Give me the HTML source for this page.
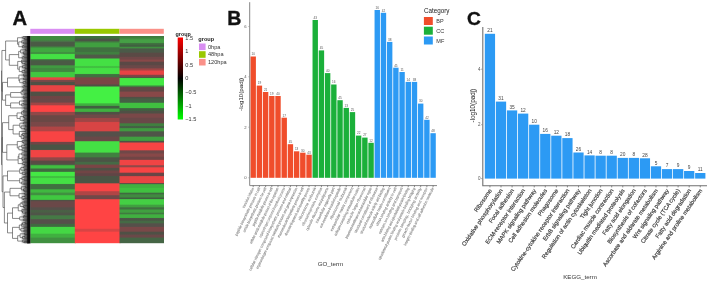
<!DOCTYPE html>
<html><head><meta charset="utf-8"><style>
html,body{margin:0;padding:0;background:#fff;width:709px;height:281px;overflow:hidden}
svg{display:block;will-change:transform;font-family:"Liberation Sans", sans-serif}

</style></head><body><div id="w">
<svg width="709" height="281" viewBox="0 0 709 281">
<rect width="709" height="281" fill="#fff"/>
<text x="12.6" y="25.3" font-size="20.2" font-weight="bold" fill="#111" stroke="#111" stroke-width="0.35">A</text>
<rect x="30.3" y="28.8" width="44.50" height="4.9999999999999964" fill="#D98EF2"/>
<rect x="74.8" y="28.8" width="44.70" height="4.9999999999999964" fill="#99C800"/>
<rect x="119.5" y="28.8" width="44.30" height="4.9999999999999964" fill="#FA9189"/>
<defs><linearGradient id="hm0" gradientUnits="userSpaceOnUse" x1="0" y1="36.0" x2="0" y2="243.2"><stop offset="0.0000" stop-color="#3f8a3f"/><stop offset="0.0195" stop-color="#3f8a3f"/><stop offset="0.0249" stop-color="#4a7048"/><stop offset="0.0263" stop-color="#4a7048"/><stop offset="0.0316" stop-color="#4a5a45"/><stop offset="0.0485" stop-color="#4a5a45"/><stop offset="0.0538" stop-color="#409040"/><stop offset="0.0553" stop-color="#409040"/><stop offset="0.0606" stop-color="#40a840"/><stop offset="0.0746" stop-color="#40a840"/><stop offset="0.0799" stop-color="#409040"/><stop offset="0.0842" stop-color="#409040"/><stop offset="0.0895" stop-color="#44e044"/><stop offset="0.1093" stop-color="#44e044"/><stop offset="0.1146" stop-color="#406a40"/><stop offset="0.1156" stop-color="#406a40"/><stop offset="0.1209" stop-color="#4a5a45"/><stop offset="0.1388" stop-color="#4a5a45"/><stop offset="0.1441" stop-color="#409a40"/><stop offset="0.1518" stop-color="#409a40"/><stop offset="0.1571" stop-color="#408840"/><stop offset="0.1711" stop-color="#408840"/><stop offset="0.1764" stop-color="#40c840"/><stop offset="0.1967" stop-color="#40c840"/><stop offset="0.2020" stop-color="#e84444"/><stop offset="0.2092" stop-color="#e84444"/><stop offset="0.2145" stop-color="#7a4848"/><stop offset="0.2189" stop-color="#7a4848"/><stop offset="0.2242" stop-color="#4f5045"/><stop offset="0.2348" stop-color="#4f5045"/><stop offset="0.2401" stop-color="#e84444"/><stop offset="0.2657" stop-color="#e84444"/><stop offset="0.2710" stop-color="#4f5045"/><stop offset="0.2869" stop-color="#4f5045"/><stop offset="0.2922" stop-color="#704545"/><stop offset="0.2995" stop-color="#704545"/><stop offset="0.3048" stop-color="#6a4848"/><stop offset="0.3188" stop-color="#6a4848"/><stop offset="0.3241" stop-color="#a04545"/><stop offset="0.3318" stop-color="#a04545"/><stop offset="0.3371" stop-color="#ff4444"/><stop offset="0.3637" stop-color="#ff4444"/><stop offset="0.3690" stop-color="#904848"/><stop offset="0.3796" stop-color="#904848"/><stop offset="0.3849" stop-color="#6a4845"/><stop offset="0.4124" stop-color="#6a4845"/><stop offset="0.4177" stop-color="#7a4848"/><stop offset="0.4346" stop-color="#7a4848"/><stop offset="0.4399" stop-color="#b04545"/><stop offset="0.4573" stop-color="#b04545"/><stop offset="0.4626" stop-color="#f84444"/><stop offset="0.5084" stop-color="#f84444"/><stop offset="0.5138" stop-color="#704545"/><stop offset="0.5210" stop-color="#704545"/><stop offset="0.5263" stop-color="#4a5545"/><stop offset="0.5475" stop-color="#4a5545"/><stop offset="0.5528" stop-color="#f04444"/><stop offset="0.5828" stop-color="#f04444"/><stop offset="0.5881" stop-color="#904848"/><stop offset="0.5987" stop-color="#904848"/><stop offset="0.6040" stop-color="#5a4a45"/><stop offset="0.6146" stop-color="#5a4a45"/><stop offset="0.6199" stop-color="#4a6045"/><stop offset="0.6209" stop-color="#4a6045"/><stop offset="0.6262" stop-color="#40c040"/><stop offset="0.6368" stop-color="#40c040"/><stop offset="0.6421" stop-color="#406a40"/><stop offset="0.6532" stop-color="#406a40"/><stop offset="0.6585" stop-color="#44e844"/><stop offset="0.6730" stop-color="#44e844"/><stop offset="0.6783" stop-color="#40c040"/><stop offset="0.6827" stop-color="#40c040"/><stop offset="0.6880" stop-color="#44e044"/><stop offset="0.7116" stop-color="#44e044"/><stop offset="0.7169" stop-color="#407040"/><stop offset="0.7372" stop-color="#407040"/><stop offset="0.7425" stop-color="#40b840"/><stop offset="0.7531" stop-color="#40b840"/><stop offset="0.7584" stop-color="#409040"/><stop offset="0.7657" stop-color="#409040"/><stop offset="0.7710" stop-color="#40c840"/><stop offset="0.7884" stop-color="#40c840"/><stop offset="0.7937" stop-color="#505045"/><stop offset="0.7946" stop-color="#505045"/><stop offset="0.8000" stop-color="#6a4848"/><stop offset="0.8241" stop-color="#6a4848"/><stop offset="0.8294" stop-color="#55504a"/><stop offset="0.8371" stop-color="#55504a"/><stop offset="0.8424" stop-color="#4a6045"/><stop offset="0.8497" stop-color="#4a6045"/><stop offset="0.8550" stop-color="#4f5548"/><stop offset="0.8627" stop-color="#4f5548"/><stop offset="0.8680" stop-color="#457a45"/><stop offset="0.8815" stop-color="#457a45"/><stop offset="0.8868" stop-color="#55504a"/><stop offset="0.9042" stop-color="#55504a"/><stop offset="0.9095" stop-color="#406a40"/><stop offset="0.9187" stop-color="#406a40"/><stop offset="0.9240" stop-color="#44d844"/><stop offset="0.9515" stop-color="#44d844"/><stop offset="0.9568" stop-color="#40b040"/><stop offset="0.9703" stop-color="#40b040"/><stop offset="0.9756" stop-color="#409040"/><stop offset="1.0000" stop-color="#409040"/></linearGradient></defs>
<rect x="30.3" y="36.0" width="45.50" height="207.20" fill="url(#hm0)"/>
<defs><linearGradient id="hm1" gradientUnits="userSpaceOnUse" x1="0" y1="36.0" x2="0" y2="243.2"><stop offset="0.0000" stop-color="#3d703d"/><stop offset="0.0099" stop-color="#3d703d"/><stop offset="0.0152" stop-color="#4a5545"/><stop offset="0.0229" stop-color="#4a5545"/><stop offset="0.0282" stop-color="#408040"/><stop offset="0.0292" stop-color="#408040"/><stop offset="0.0345" stop-color="#40a040"/><stop offset="0.0519" stop-color="#40a040"/><stop offset="0.0572" stop-color="#407040"/><stop offset="0.0746" stop-color="#407040"/><stop offset="0.0799" stop-color="#408040"/><stop offset="0.0871" stop-color="#408040"/><stop offset="0.0924" stop-color="#505a48"/><stop offset="0.1059" stop-color="#505a48"/><stop offset="0.1112" stop-color="#44e044"/><stop offset="0.1421" stop-color="#44e044"/><stop offset="0.1474" stop-color="#40c040"/><stop offset="0.1518" stop-color="#40c040"/><stop offset="0.1571" stop-color="#44e044"/><stop offset="0.1807" stop-color="#44e044"/><stop offset="0.1861" stop-color="#407040"/><stop offset="0.1967" stop-color="#407040"/><stop offset="0.2020" stop-color="#7a4545"/><stop offset="0.2314" stop-color="#7a4545"/><stop offset="0.2367" stop-color="#505045"/><stop offset="0.2411" stop-color="#505045"/><stop offset="0.2464" stop-color="#44f044"/><stop offset="0.3222" stop-color="#44f044"/><stop offset="0.3275" stop-color="#40b040"/><stop offset="0.3347" stop-color="#40b040"/><stop offset="0.3400" stop-color="#406040"/><stop offset="0.3477" stop-color="#406040"/><stop offset="0.3530" stop-color="#40b040"/><stop offset="0.3637" stop-color="#40b040"/><stop offset="0.3690" stop-color="#505045"/><stop offset="0.3762" stop-color="#505045"/><stop offset="0.3815" stop-color="#704848"/><stop offset="0.3931" stop-color="#704848"/><stop offset="0.3984" stop-color="#a04545"/><stop offset="0.4124" stop-color="#a04545"/><stop offset="0.4177" stop-color="#d84444"/><stop offset="0.4573" stop-color="#d84444"/><stop offset="0.4626" stop-color="#55504a"/><stop offset="0.4829" stop-color="#55504a"/><stop offset="0.4882" stop-color="#6a4848"/><stop offset="0.5051" stop-color="#6a4848"/><stop offset="0.5104" stop-color="#44e044"/><stop offset="0.5601" stop-color="#44e044"/><stop offset="0.5654" stop-color="#408040"/><stop offset="0.5828" stop-color="#408040"/><stop offset="0.5881" stop-color="#4a5545"/><stop offset="0.6050" stop-color="#4a5545"/><stop offset="0.6103" stop-color="#456a45"/><stop offset="0.6180" stop-color="#456a45"/><stop offset="0.6233" stop-color="#7a4545"/><stop offset="0.6339" stop-color="#7a4545"/><stop offset="0.6392" stop-color="#505045"/><stop offset="0.6465" stop-color="#505045"/><stop offset="0.6518" stop-color="#704545"/><stop offset="0.6595" stop-color="#704545"/><stop offset="0.6648" stop-color="#604545"/><stop offset="0.6730" stop-color="#604545"/><stop offset="0.6783" stop-color="#4a5545"/><stop offset="0.7083" stop-color="#4a5545"/><stop offset="0.7136" stop-color="#f84444"/><stop offset="0.7464" stop-color="#f84444"/><stop offset="0.7517" stop-color="#b04545"/><stop offset="0.7657" stop-color="#b04545"/><stop offset="0.7710" stop-color="#704848"/><stop offset="0.7850" stop-color="#704848"/><stop offset="0.7903" stop-color="#ff4444"/><stop offset="0.9278" stop-color="#ff4444"/><stop offset="0.9332" stop-color="#d84444"/><stop offset="0.9418" stop-color="#d84444"/><stop offset="0.9472" stop-color="#ff4444"/><stop offset="1.0000" stop-color="#ff4444"/></linearGradient></defs>
<rect x="74.8" y="36.0" width="45.70" height="207.20" fill="url(#hm1)"/>
<defs><linearGradient id="hm2" gradientUnits="userSpaceOnUse" x1="0" y1="36.0" x2="0" y2="243.2"><stop offset="0.0000" stop-color="#3d7a3d"/><stop offset="0.0056" stop-color="#3d7a3d"/><stop offset="0.0109" stop-color="#408a40"/><stop offset="0.0133" stop-color="#408a40"/><stop offset="0.0186" stop-color="#45a045"/><stop offset="0.0311" stop-color="#45a045"/><stop offset="0.0364" stop-color="#407040"/><stop offset="0.0393" stop-color="#407040"/><stop offset="0.0446" stop-color="#406040"/><stop offset="0.0495" stop-color="#406040"/><stop offset="0.0548" stop-color="#409040"/><stop offset="0.0572" stop-color="#409040"/><stop offset="0.0625" stop-color="#4a5a48"/><stop offset="0.0779" stop-color="#4a5a48"/><stop offset="0.0833" stop-color="#5a4a45"/><stop offset="0.0982" stop-color="#5a4a45"/><stop offset="0.1035" stop-color="#704848"/><stop offset="0.1112" stop-color="#704848"/><stop offset="0.1166" stop-color="#884848"/><stop offset="0.1214" stop-color="#884848"/><stop offset="0.1267" stop-color="#5a4845"/><stop offset="0.1383" stop-color="#5a4845"/><stop offset="0.1436" stop-color="#6a4848"/><stop offset="0.1537" stop-color="#6a4848"/><stop offset="0.1590" stop-color="#a04545"/><stop offset="0.1639" stop-color="#a04545"/><stop offset="0.1692" stop-color="#e84444"/><stop offset="0.1846" stop-color="#e84444"/><stop offset="0.1899" stop-color="#804545"/><stop offset="0.1947" stop-color="#804545"/><stop offset="0.2000" stop-color="#505045"/><stop offset="0.2000" stop-color="#505045"/><stop offset="0.2054" stop-color="#44e844"/><stop offset="0.2362" stop-color="#44e844"/><stop offset="0.2416" stop-color="#408040"/><stop offset="0.2435" stop-color="#408040"/><stop offset="0.2488" stop-color="#604845"/><stop offset="0.2657" stop-color="#604845"/><stop offset="0.2710" stop-color="#884848"/><stop offset="0.2913" stop-color="#884848"/><stop offset="0.2966" stop-color="#505045"/><stop offset="0.2990" stop-color="#505045"/><stop offset="0.3043" stop-color="#456045"/><stop offset="0.3197" stop-color="#456045"/><stop offset="0.3250" stop-color="#40c040"/><stop offset="0.3453" stop-color="#40c040"/><stop offset="0.3506" stop-color="#406040"/><stop offset="0.3583" stop-color="#406040"/><stop offset="0.3637" stop-color="#4f5045"/><stop offset="0.3714" stop-color="#4f5045"/><stop offset="0.3767" stop-color="#7a4848"/><stop offset="0.3917" stop-color="#7a4848"/><stop offset="0.3970" stop-color="#6a4848"/><stop offset="0.4187" stop-color="#6a4848"/><stop offset="0.4240" stop-color="#40803f"/><stop offset="0.4317" stop-color="#40803f"/><stop offset="0.4370" stop-color="#456045"/><stop offset="0.4418" stop-color="#456045"/><stop offset="0.4472" stop-color="#409a40"/><stop offset="0.4573" stop-color="#409a40"/><stop offset="0.4626" stop-color="#4f5548"/><stop offset="0.4833" stop-color="#4f5548"/><stop offset="0.4887" stop-color="#40a040"/><stop offset="0.5036" stop-color="#40a040"/><stop offset="0.5089" stop-color="#505045"/><stop offset="0.5113" stop-color="#505045"/><stop offset="0.5167" stop-color="#f84444"/><stop offset="0.5490" stop-color="#f84444"/><stop offset="0.5543" stop-color="#704848"/><stop offset="0.5644" stop-color="#704848"/><stop offset="0.5697" stop-color="#884848"/><stop offset="0.5799" stop-color="#884848"/><stop offset="0.5852" stop-color="#704545"/><stop offset="0.5953" stop-color="#704545"/><stop offset="0.6006" stop-color="#f04444"/><stop offset="0.6209" stop-color="#f04444"/><stop offset="0.6262" stop-color="#904848"/><stop offset="0.6310" stop-color="#904848"/><stop offset="0.6363" stop-color="#f84444"/><stop offset="0.6571" stop-color="#f84444"/><stop offset="0.6624" stop-color="#6a4545"/><stop offset="0.6735" stop-color="#6a4545"/><stop offset="0.6788" stop-color="#e84444"/><stop offset="0.7073" stop-color="#e84444"/><stop offset="0.7124" stop-color="#505045"/><stop offset="0.7124" stop-color="#505045"/><stop offset="0.7174" stop-color="#40b040"/><stop offset="0.7305" stop-color="#40b040"/><stop offset="0.7358" stop-color="#40c040"/><stop offset="0.7536" stop-color="#40c040"/><stop offset="0.7589" stop-color="#406a40"/><stop offset="0.7613" stop-color="#406a40"/><stop offset="0.7667" stop-color="#408a40"/><stop offset="0.7768" stop-color="#408a40"/><stop offset="0.7821" stop-color="#406040"/><stop offset="0.7845" stop-color="#406040"/><stop offset="0.7898" stop-color="#44d044"/><stop offset="0.8115" stop-color="#44d044"/><stop offset="0.8168" stop-color="#40a040"/><stop offset="0.8241" stop-color="#40a040"/><stop offset="0.8294" stop-color="#407040"/><stop offset="0.8347" stop-color="#407040"/><stop offset="0.8400" stop-color="#40a040"/><stop offset="0.8501" stop-color="#40a040"/><stop offset="0.8555" stop-color="#407a40"/><stop offset="0.8579" stop-color="#407a40"/><stop offset="0.8632" stop-color="#40b040"/><stop offset="0.8757" stop-color="#40b040"/><stop offset="0.8810" stop-color="#4a5545"/><stop offset="0.8888" stop-color="#4a5545"/><stop offset="0.8941" stop-color="#456a45"/><stop offset="0.9013" stop-color="#456a45"/><stop offset="0.9066" stop-color="#55504a"/><stop offset="0.9187" stop-color="#55504a"/><stop offset="0.9240" stop-color="#7a4848"/><stop offset="0.9418" stop-color="#7a4848"/><stop offset="0.9472" stop-color="#4f5045"/><stop offset="0.9558" stop-color="#4f5045"/><stop offset="0.9611" stop-color="#6a4848"/><stop offset="0.9703" stop-color="#6a4848"/><stop offset="0.9756" stop-color="#456545"/><stop offset="1.0000" stop-color="#456545"/></linearGradient></defs>
<rect x="119.5" y="36.0" width="44.50" height="207.20" fill="url(#hm2)"/>
<path d="M24.47 38.08L24.47 39.46M24.47 38.08L29.00 38.08M24.47 39.46L29.00 39.46M22.95 36.69L22.95 38.77M22.95 36.69L29.00 36.69M22.95 38.77L24.47 38.77M23.54 42.23L23.54 43.61M23.54 42.23L29.00 42.23M23.54 43.61L29.00 43.61M21.72 40.84L21.72 42.92M21.72 40.84L29.00 40.84M21.72 42.92L23.54 42.92M23.65 44.99L23.65 46.38M23.65 44.99L29.00 44.99M23.65 46.38L29.00 46.38M22.49 45.68L22.49 47.76M22.49 45.68L23.65 45.68M22.49 47.76L29.00 47.76M18.76 41.88L18.76 46.72M18.76 41.88L21.72 41.88M18.76 46.72L22.49 46.72M17.54 37.73L17.54 44.30M17.54 37.73L22.95 37.73M17.54 44.30L18.76 44.30M25.35 49.14L25.35 50.52M25.35 49.14L29.00 49.14M25.35 50.52L29.00 50.52M24.06 53.29L24.06 54.67M24.06 53.29L29.00 53.29M24.06 54.67L29.00 54.67M23.36 51.91L23.36 53.98M23.36 51.91L29.00 51.91M23.36 53.98L24.06 53.98M20.59 49.83L20.59 52.95M20.59 49.83L25.35 49.83M20.59 52.95L23.36 52.95M23.76 56.06L23.76 57.44M23.76 56.06L29.00 56.06M23.76 57.44L29.00 57.44M22.26 56.75L22.26 58.83M22.26 56.75L23.76 56.75M22.26 58.83L29.00 58.83M18.65 51.39L18.65 57.79M18.65 51.39L20.59 51.39M18.65 57.79L22.26 57.79M24.76 62.97L24.76 64.36M24.76 62.97L29.00 62.97M24.76 64.36L29.00 64.36M22.20 61.59L22.20 63.67M22.20 61.59L29.00 61.59M22.20 63.67L24.76 63.67M21.50 60.21L21.50 62.63M21.50 60.21L29.00 60.21M21.50 62.63L22.20 62.63M24.99 67.12L24.99 68.51M24.99 67.12L29.00 67.12M24.99 68.51L29.00 68.51M22.55 65.74L22.55 67.82M22.55 65.74L29.00 65.74M22.55 67.82L24.99 67.82M24.45 69.89L24.45 71.28M24.45 69.89L29.00 69.89M24.45 71.28L29.00 71.28M22.13 70.58L22.13 72.66M22.13 70.58L24.45 70.58M22.13 72.66L29.00 72.66M19.27 66.78L19.27 71.62M19.27 66.78L22.55 66.78M19.27 71.62L22.13 71.62M17.71 61.42L17.71 69.20M17.71 61.42L21.50 61.42M17.71 69.20L19.27 69.20M9.30 54.59L9.30 65.31M9.30 54.59L18.65 54.59M9.30 65.31L17.71 65.31M5.60 41.01L5.60 59.95M5.60 41.01L17.54 41.01M5.60 59.95L9.30 59.95M24.31 75.42L24.31 76.81M24.31 75.42L29.00 75.42M24.31 76.81L29.00 76.81M23.61 74.04L23.61 76.12M23.61 74.04L29.00 74.04M23.61 76.12L24.31 76.12M23.48 78.19L23.48 79.57M23.48 78.19L29.00 78.19M23.48 79.57L29.00 79.57M25.15 80.96L25.15 82.34M25.15 80.96L29.00 80.96M25.15 82.34L29.00 82.34M23.17 81.65L23.17 83.72M23.17 81.65L25.15 81.65M23.17 83.72L29.00 83.72M19.74 78.88L19.74 82.69M19.74 78.88L23.48 78.88M19.74 82.69L23.17 82.69M18.86 75.08L18.86 80.79M18.86 75.08L23.61 75.08M18.86 80.79L19.74 80.79M24.56 85.11L24.56 86.49M24.56 85.11L29.00 85.11M24.56 86.49L29.00 86.49M23.04 85.80L23.04 87.88M23.04 85.80L24.56 85.80M23.04 87.88L29.00 87.88M7.50 77.93L7.50 86.84M7.50 77.93L18.86 77.93M7.50 86.84L23.04 86.84M23.52 89.26L23.52 90.64M23.52 89.26L29.00 89.26M23.52 90.64L29.00 90.64M22.59 89.95L22.59 92.03M22.59 89.95L23.52 89.95M22.59 92.03L29.00 92.03M24.69 93.41L24.69 94.79M24.69 93.41L29.00 93.41M24.69 94.79L29.00 94.79M21.11 90.99L21.11 94.10M21.11 90.99L22.59 90.99M21.11 94.10L24.69 94.10M24.17 97.56L24.17 98.94M24.17 97.56L29.00 97.56M24.17 98.94L29.00 98.94M23.29 96.17L23.29 98.25M23.29 96.17L29.00 96.17M23.29 98.25L24.17 98.25M10.60 92.54L10.60 97.21M10.60 92.54L21.11 92.54M10.60 97.21L23.29 97.21M23.74 100.33L23.74 101.71M23.74 100.33L29.00 100.33M23.74 101.71L29.00 101.71M23.66 103.09L23.66 104.47M23.66 103.09L29.00 103.09M23.66 104.47L29.00 104.47M21.76 103.78L21.76 105.86M21.76 103.78L23.66 103.78M21.76 105.86L29.00 105.86M19.48 101.02L19.48 104.82M19.48 101.02L23.74 101.02M19.48 104.82L21.76 104.82M24.18 107.24L24.18 108.62M24.18 107.24L29.00 107.24M24.18 108.62L29.00 108.62M10.60 102.92L10.60 107.93M10.60 102.92L19.48 102.92M10.60 107.93L24.18 107.93M5.60 94.88L5.60 105.43M5.60 94.88L10.60 94.88M5.60 105.43L10.60 105.43M2.50 82.38L2.50 100.15M2.50 82.38L7.50 82.38M2.50 100.15L5.60 100.15M1.90 50.48L1.90 91.27M1.90 50.48L5.60 50.48M1.90 91.27L2.50 91.27M23.98 110.01L23.98 111.39M23.98 110.01L29.00 110.01M23.98 111.39L29.00 111.39M23.28 110.70L23.28 112.77M23.28 110.70L23.98 110.70M23.28 112.77L29.00 112.77M21.50 111.74L21.50 114.16M21.50 111.74L23.28 111.74M21.50 114.16L29.00 114.16M24.26 116.92L24.26 118.31M24.26 116.92L29.00 116.92M24.26 118.31L29.00 118.31M23.56 115.54L23.56 117.62M23.56 115.54L29.00 115.54M23.56 117.62L24.26 117.62M23.87 119.69L23.87 121.08M23.87 119.69L29.00 119.69M23.87 121.08L29.00 121.08M20.15 116.58L20.15 120.38M20.15 116.58L23.56 116.58M20.15 120.38L23.87 120.38M17.05 112.95L17.05 118.48M17.05 112.95L21.50 112.95M17.05 118.48L20.15 118.48M23.41 122.46L23.41 123.84M23.41 122.46L29.00 122.46M23.41 123.84L29.00 123.84M25.31 125.22L25.31 126.61M25.31 125.22L29.00 125.22M25.31 126.61L29.00 126.61M24.43 127.99L24.43 129.38M24.43 127.99L29.00 127.99M24.43 129.38L29.00 129.38M21.14 125.92L21.14 128.68M21.14 125.92L25.31 125.92M21.14 128.68L24.43 128.68M19.82 123.15L19.82 127.30M19.82 123.15L23.41 123.15M19.82 127.30L21.14 127.30M25.20 130.76L25.20 132.14M25.20 130.76L29.00 130.76M25.20 132.14L29.00 132.14M23.61 134.91L23.61 136.29M23.61 134.91L29.00 134.91M23.61 136.29L29.00 136.29M22.43 133.52L22.43 135.60M22.43 133.52L29.00 133.52M22.43 135.60L23.61 135.60M23.52 137.68L23.52 139.06M23.52 137.68L29.00 137.68M23.52 139.06L29.00 139.06M21.18 134.56L21.18 138.37M21.18 134.56L22.43 134.56M21.18 138.37L23.52 138.37M19.33 131.45L19.33 136.46M19.33 131.45L25.20 131.45M19.33 136.46L21.18 136.46M13.10 125.22L13.10 133.96M13.10 125.22L19.82 125.22M13.10 133.96L19.33 133.96M8.70 115.71L8.70 129.59M8.70 115.71L17.05 115.71M8.70 129.59L13.10 129.59M23.40 141.82L23.40 143.21M23.40 141.82L29.00 141.82M23.40 143.21L29.00 143.21M22.33 140.44L22.33 142.52M22.33 140.44L29.00 140.44M22.33 142.52L23.40 142.52M24.63 144.59L24.63 145.97M24.63 144.59L29.00 144.59M24.63 145.97L29.00 145.97M21.70 145.28L21.70 147.36M21.70 145.28L24.63 145.28M21.70 147.36L29.00 147.36M24.13 150.12L24.13 151.51M24.13 150.12L29.00 150.12M24.13 151.51L29.00 151.51M22.15 148.74L22.15 150.82M22.15 148.74L29.00 148.74M22.15 150.82L24.13 150.82M18.85 146.32L18.85 149.78M18.85 146.32L21.70 146.32M18.85 149.78L22.15 149.78M17.31 141.48L17.31 148.05M17.31 141.48L22.33 141.48M17.31 148.05L18.85 148.05M24.09 154.27L24.09 155.66M24.09 154.27L29.00 154.27M24.09 155.66L29.00 155.66M21.82 152.89L21.82 154.97M21.82 152.89L29.00 152.89M21.82 154.97L24.09 154.97M24.46 158.43L24.46 159.81M24.46 158.43L29.00 158.43M24.46 159.81L29.00 159.81M22.76 159.12L22.76 161.19M22.76 159.12L24.46 159.12M22.76 161.19L29.00 161.19M22.06 157.04L22.06 160.15M22.06 157.04L29.00 157.04M22.06 160.15L22.76 160.15M18.91 153.93L18.91 158.60M18.91 153.93L21.82 153.93M18.91 158.60L22.06 158.60M24.46 163.96L24.46 165.34M24.46 163.96L29.00 163.96M24.46 165.34L29.00 165.34M22.73 162.57L22.73 164.65M22.73 162.57L29.00 162.57M22.73 164.65L24.46 164.65M18.13 156.26L18.13 163.61M18.13 156.26L18.91 156.26M18.13 163.61L22.73 163.61M6.80 144.76L6.80 159.94M6.80 144.76L17.31 144.76M6.80 159.94L18.13 159.94M2.50 122.65L2.50 152.35M2.50 122.65L8.70 122.65M2.50 152.35L6.80 152.35M23.73 166.72L23.73 168.11M23.73 166.72L29.00 166.72M23.73 168.11L29.00 168.11M24.47 169.49L24.47 170.88M24.47 169.49L29.00 169.49M24.47 170.88L29.00 170.88M20.92 167.42L20.92 170.18M20.92 167.42L23.73 167.42M20.92 170.18L24.47 170.18M25.02 173.64L25.02 175.03M25.02 173.64L29.00 173.64M25.02 175.03L29.00 175.03M22.30 172.26L22.30 174.33M22.30 172.26L29.00 172.26M22.30 174.33L25.02 174.33M19.70 168.80L19.70 173.30M19.70 168.80L20.92 168.80M19.70 173.30L22.30 173.30M23.85 176.41L23.85 177.79M23.85 176.41L29.00 176.41M23.85 177.79L29.00 177.79M24.11 179.17L24.11 180.56M24.11 179.17L29.00 179.17M24.11 180.56L29.00 180.56M22.04 177.10L22.04 179.87M22.04 177.10L23.85 177.10M22.04 179.87L24.11 179.87M23.92 183.32L23.92 184.71M23.92 183.32L29.00 183.32M23.92 184.71L29.00 184.71M21.70 181.94L21.70 184.02M21.70 181.94L29.00 181.94M21.70 184.02L23.92 184.02M19.68 178.48L19.68 182.98M19.68 178.48L22.04 178.48M19.68 182.98L21.70 182.98M7.50 171.05L7.50 180.73M7.50 171.05L19.70 171.05M7.50 180.73L19.68 180.73M25.27 186.09L25.27 187.47M25.27 186.09L29.00 186.09M25.27 187.47L29.00 187.47M24.26 190.24L24.26 191.62M24.26 190.24L29.00 190.24M24.26 191.62L29.00 191.62M23.56 188.86L23.56 190.93M23.56 188.86L29.00 188.86M23.56 190.93L24.26 190.93M21.35 186.78L21.35 189.90M21.35 186.78L25.27 186.78M21.35 189.90L23.56 189.90M24.65 193.01L24.65 194.39M24.65 193.01L29.00 193.01M24.65 194.39L29.00 194.39M24.71 195.78L24.71 197.16M24.71 195.78L29.00 195.78M24.71 197.16L29.00 197.16M23.57 198.54L23.57 199.92M23.57 198.54L29.00 198.54M23.57 199.92L29.00 199.92M22.08 196.47L22.08 199.23M22.08 196.47L24.71 196.47M22.08 199.23L23.57 199.23M19.04 193.70L19.04 197.85M19.04 193.70L24.65 193.70M19.04 197.85L22.08 197.85M10.00 188.34L10.00 195.77M10.00 188.34L21.35 188.34M10.00 195.77L19.04 195.77M24.07 201.31L24.07 202.69M24.07 201.31L29.00 201.31M24.07 202.69L29.00 202.69M22.00 202.00L22.00 204.07M22.00 202.00L24.07 202.00M22.00 204.07L29.00 204.07M24.29 206.84L24.29 208.22M24.29 206.84L29.00 206.84M24.29 208.22L29.00 208.22M23.59 205.46L23.59 207.53M23.59 205.46L29.00 205.46M23.59 207.53L24.29 207.53M20.15 203.04L20.15 206.50M20.15 203.04L22.00 203.04M20.15 206.50L23.59 206.50M25.21 212.38L25.21 213.76M25.21 212.38L29.00 212.38M25.21 213.76L29.00 213.76M22.55 210.99L22.55 213.07M22.55 210.99L29.00 210.99M22.55 213.07L25.21 213.07M21.85 209.61L21.85 212.03M21.85 209.61L29.00 209.61M21.85 212.03L22.55 212.03M18.25 204.77L18.25 210.82M18.25 204.77L20.15 204.77M18.25 210.82L21.85 210.82M24.31 215.14L24.31 216.53M24.31 215.14L29.00 215.14M24.31 216.53L29.00 216.53M23.61 215.83L23.61 217.91M23.61 215.83L24.31 215.83M23.61 217.91L29.00 217.91M23.66 219.29L23.66 220.67M23.66 219.29L29.00 219.29M23.66 220.67L29.00 220.67M19.73 216.87L19.73 219.98M19.73 216.87L23.61 216.87M19.73 219.98L23.66 219.98M12.50 207.79L12.50 218.43M12.50 207.79L18.25 207.79M12.50 218.43L19.73 218.43M25.05 222.06L25.05 223.44M25.05 222.06L29.00 222.06M25.05 223.44L29.00 223.44M22.51 222.75L22.51 224.82M22.51 222.75L25.05 222.75M22.51 224.82L29.00 224.82M21.45 223.79L21.45 226.21M21.45 223.79L22.51 223.79M21.45 226.21L29.00 226.21M23.88 227.59L23.88 228.97M23.88 227.59L29.00 227.59M23.88 228.97L29.00 228.97M23.92 230.36L23.92 231.74M23.92 230.36L29.00 230.36M23.92 231.74L29.00 231.74M20.90 228.28L20.90 231.05M20.90 228.28L23.88 228.28M20.90 231.05L23.92 231.05M19.34 225.00L19.34 229.67M19.34 225.00L21.45 225.00M19.34 229.67L20.90 229.67M24.57 233.12L24.57 234.51M24.57 233.12L29.00 233.12M24.57 234.51L29.00 234.51M24.40 235.89L24.40 237.28M24.40 235.89L29.00 235.89M24.40 237.28L29.00 237.28M22.49 236.58L22.49 238.66M22.49 236.58L24.40 236.58M22.49 238.66L29.00 238.66M20.14 233.82L20.14 237.62M20.14 233.82L24.57 233.82M20.14 237.62L22.49 237.62M24.28 241.42L24.28 242.81M24.28 241.42L29.00 241.42M24.28 242.81L29.00 242.81M22.69 240.04L22.69 242.12M22.69 240.04L29.00 240.04M22.69 242.12L24.28 242.12M17.66 235.72L17.66 241.08M17.66 235.72L20.14 235.72M17.66 241.08L22.69 241.08M12.50 227.33L12.50 238.40M12.50 227.33L19.34 227.33M12.50 238.40L17.66 238.40M7.50 213.11L7.50 232.87M7.50 213.11L12.50 213.11M7.50 232.87L12.50 232.87M4.40 192.06L4.40 222.99M4.40 192.06L10.00 192.06M4.40 222.99L7.50 222.99M3.00 175.89L3.00 207.52M3.00 175.89L7.50 175.89M3.00 207.52L4.40 207.52M2.10 137.50L2.10 191.71M2.10 137.50L2.50 137.50M2.10 191.71L3.00 191.71M1.50 70.88L1.50 164.60M1.50 70.88L1.90 70.88M1.50 164.60L2.10 164.60" stroke="#4a4a4a" stroke-width="0.65" fill="none"/>
<defs><linearGradient id="lf" x1="0" y1="0" x2="1" y2="0"><stop offset="0" stop-color="#000" stop-opacity="0"/><stop offset="1" stop-color="#000" stop-opacity="0.6"/></linearGradient></defs>
<rect x="20.5" y="36" width="6.7" height="207.2" fill="url(#lf)"/>
<rect x="27.1" y="36" width="3.3" height="207.5" fill="#0a0a0a"/>
<defs><linearGradient id="cb" x1="0" y1="0" x2="0" y2="1"><stop offset="0" stop-color="#ff0000"/><stop offset="0.5" stop-color="#000000"/><stop offset="1" stop-color="#00ff00"/></linearGradient></defs>
<rect x="177.7" y="37.5" width="5.3" height="82" fill="url(#cb)"/>
<text x="175.5" y="36.2" font-size="5.4" font-weight="bold" fill="#222">group</text>
<text x="185.3" y="40.1" font-size="5.6" fill="#333">1.5</text>
<text x="185.3" y="52.9" font-size="5.6" fill="#333">1</text>
<text x="185.3" y="66.5" font-size="5.6" fill="#333">0.5</text>
<text x="185.3" y="79.9" font-size="5.6" fill="#333">0</text>
<text x="185.3" y="94.1" font-size="5.6" fill="#333">−0.5</text>
<text x="185.3" y="107.5" font-size="5.6" fill="#333">−1</text>
<text x="185.3" y="121.3" font-size="5.6" fill="#333">−1.5</text>
<text x="198.3" y="41" font-size="5.6" font-weight="bold" fill="#222">group</text>
<rect x="199" y="43.5" width="6.6" height="6.6" fill="#D98EF2"/>
<text x="208" y="48.6" font-size="5.6" fill="#333">0hpa</text>
<rect x="199" y="51.2" width="6.6" height="6.6" fill="#99C800"/>
<text x="208" y="56.3" font-size="5.6" fill="#333">48hpa</text>
<rect x="199" y="58.9" width="6.6" height="6.6" fill="#FA9189"/>
<text x="208" y="64.0" font-size="5.6" fill="#333">120hpa</text>
<text x="227.2" y="25.2" font-size="19.6" font-weight="bold" fill="#111" stroke="#111" stroke-width="0.35">B</text>
<rect x="250.50" y="56.5" width="5.40" height="121.30" fill="#F04D2B"/>
<text x="253.20" y="55.30" font-size="3.1" text-anchor="middle" fill="#555">10</text>
<rect x="256.70" y="85.6" width="5.40" height="92.20" fill="#F04D2B"/>
<text x="259.40" y="84.40" font-size="3.1" text-anchor="middle" fill="#555">19</text>
<rect x="262.91" y="92" width="5.40" height="85.80" fill="#F04D2B"/>
<text x="265.61" y="90.80" font-size="3.1" text-anchor="middle" fill="#555">21</text>
<rect x="269.11" y="96" width="5.40" height="81.80" fill="#F04D2B"/>
<text x="271.81" y="94.80" font-size="3.1" text-anchor="middle" fill="#555">19</text>
<rect x="275.31" y="96" width="5.40" height="81.80" fill="#F04D2B"/>
<text x="278.01" y="94.80" font-size="3.1" text-anchor="middle" fill="#555">40</text>
<rect x="281.51" y="117.7" width="5.40" height="60.10" fill="#F04D2B"/>
<text x="284.22" y="116.50" font-size="3.1" text-anchor="middle" fill="#555">17</text>
<rect x="287.72" y="144.2" width="5.40" height="33.60" fill="#F04D2B"/>
<text x="290.42" y="143.00" font-size="3.1" text-anchor="middle" fill="#555">45</text>
<rect x="293.92" y="151.3" width="5.40" height="26.50" fill="#F04D2B"/>
<text x="296.62" y="150.10" font-size="3.1" text-anchor="middle" fill="#555">13</text>
<rect x="300.12" y="152.7" width="5.40" height="25.10" fill="#F04D2B"/>
<text x="302.83" y="151.50" font-size="3.1" text-anchor="middle" fill="#555">30</text>
<rect x="306.33" y="154.7" width="5.40" height="23.10" fill="#F04D2B"/>
<text x="309.03" y="153.50" font-size="3.1" text-anchor="middle" fill="#555">43</text>
<rect x="312.53" y="20" width="5.40" height="157.80" fill="#1BB03A"/>
<text x="315.23" y="18.80" font-size="3.1" text-anchor="middle" fill="#555">43</text>
<rect x="318.73" y="50.4" width="5.40" height="127.40" fill="#1BB03A"/>
<text x="321.43" y="49.20" font-size="3.1" text-anchor="middle" fill="#555">45</text>
<rect x="324.94" y="73.1" width="5.40" height="104.70" fill="#1BB03A"/>
<text x="327.64" y="71.90" font-size="3.1" text-anchor="middle" fill="#555">40</text>
<rect x="331.14" y="84.5" width="5.40" height="93.30" fill="#1BB03A"/>
<text x="333.84" y="83.30" font-size="3.1" text-anchor="middle" fill="#555">16</text>
<rect x="337.34" y="100.2" width="5.40" height="77.60" fill="#1BB03A"/>
<text x="340.04" y="99.00" font-size="3.1" text-anchor="middle" fill="#555">45</text>
<rect x="343.55" y="107.9" width="5.40" height="69.90" fill="#1BB03A"/>
<text x="346.25" y="106.70" font-size="3.1" text-anchor="middle" fill="#555">13</text>
<rect x="349.75" y="112.1" width="5.40" height="65.70" fill="#1BB03A"/>
<text x="352.45" y="110.90" font-size="3.1" text-anchor="middle" fill="#555">25</text>
<rect x="355.95" y="135.6" width="5.40" height="42.20" fill="#1BB03A"/>
<text x="358.65" y="134.40" font-size="3.1" text-anchor="middle" fill="#555">22</text>
<rect x="362.15" y="137.6" width="5.40" height="40.20" fill="#1BB03A"/>
<text x="364.86" y="136.40" font-size="3.1" text-anchor="middle" fill="#555">27</text>
<rect x="368.36" y="142.8" width="5.40" height="35.00" fill="#1BB03A"/>
<text x="371.06" y="141.60" font-size="3.1" text-anchor="middle" fill="#555">12</text>
<rect x="374.56" y="10" width="5.40" height="167.80" fill="#2C9AF4"/>
<text x="377.26" y="8.80" font-size="3.1" text-anchor="middle" fill="#555">16</text>
<rect x="380.76" y="12.8" width="5.40" height="165.00" fill="#2C9AF4"/>
<text x="383.46" y="11.60" font-size="3.1" text-anchor="middle" fill="#555">42</text>
<rect x="386.97" y="41.9" width="5.40" height="135.90" fill="#2C9AF4"/>
<text x="389.67" y="40.70" font-size="3.1" text-anchor="middle" fill="#555">38</text>
<rect x="393.17" y="67.7" width="5.40" height="110.10" fill="#2C9AF4"/>
<text x="395.87" y="66.50" font-size="3.1" text-anchor="middle" fill="#555">45</text>
<rect x="399.37" y="72" width="5.40" height="105.80" fill="#2C9AF4"/>
<text x="402.07" y="70.80" font-size="3.1" text-anchor="middle" fill="#555">11</text>
<rect x="405.58" y="81.9" width="5.40" height="95.90" fill="#2C9AF4"/>
<text x="408.28" y="80.70" font-size="3.1" text-anchor="middle" fill="#555">14</text>
<rect x="411.78" y="81.9" width="5.40" height="95.90" fill="#2C9AF4"/>
<text x="414.48" y="80.70" font-size="3.1" text-anchor="middle" fill="#555">38</text>
<rect x="417.98" y="103.6" width="5.40" height="74.20" fill="#2C9AF4"/>
<text x="420.68" y="102.40" font-size="3.1" text-anchor="middle" fill="#555">30</text>
<rect x="424.18" y="119.8" width="5.40" height="58.00" fill="#2C9AF4"/>
<text x="426.89" y="118.60" font-size="3.1" text-anchor="middle" fill="#555">42</text>
<rect x="430.39" y="133.2" width="5.40" height="44.60" fill="#2C9AF4"/>
<text x="433.09" y="132.00" font-size="3.1" text-anchor="middle" fill="#555">48</text>
<path d="M249.7 2.2V185.6H437" stroke="#858585" stroke-width="1" fill="none"/>
<text x="246.6" y="179.3" font-size="4.2" text-anchor="end" fill="#555">0</text>
<line x1="248.2" y1="177.8" x2="249.5" y2="177.8" stroke="#888" stroke-width="0.5"/>
<text x="246.6" y="128.7" font-size="4.2" text-anchor="end" fill="#555">2</text>
<line x1="248.2" y1="127.2" x2="249.5" y2="127.2" stroke="#888" stroke-width="0.5"/>
<text x="246.6" y="78.3" font-size="4.2" text-anchor="end" fill="#555">4</text>
<line x1="248.2" y1="76.8" x2="249.5" y2="76.8" stroke="#888" stroke-width="0.5"/>
<text x="246.6" y="28.0" font-size="4.2" text-anchor="end" fill="#555">6</text>
<line x1="248.2" y1="26.5" x2="249.5" y2="26.5" stroke="#888" stroke-width="0.5"/>
<text transform="translate(242.6 94.4) rotate(-90)" font-size="6.2" text-anchor="middle" fill="#222">-log10(padj)</text>
<line x1="253.20" y1="185.6" x2="253.20" y2="187.2" stroke="#444" stroke-width="0.6"/>
<text transform="translate(254.10 188.4) rotate(-64)" font-size="3.7" text-anchor="end" fill="#7a7a7a" stroke="#999" stroke-width="0.1" textLength="22" lengthAdjust="spacingAndGlyphs">translation initiation</text>
<line x1="259.40" y1="185.6" x2="259.40" y2="187.2" stroke="#444" stroke-width="0.6"/>
<text transform="translate(260.30 188.4) rotate(-64)" font-size="3.7" text-anchor="end" fill="#7a7a7a" stroke="#999" stroke-width="0.1" textLength="53" lengthAdjust="spacingAndGlyphs">peptide biosynthetic process in cell</text>
<line x1="265.61" y1="185.6" x2="265.61" y2="187.2" stroke="#444" stroke-width="0.6"/>
<text transform="translate(266.51 188.4) rotate(-64)" font-size="3.7" text-anchor="end" fill="#7a7a7a" stroke="#999" stroke-width="0.1" textLength="49" lengthAdjust="spacingAndGlyphs">amide biosynthetic process for cell</text>
<line x1="271.81" y1="185.6" x2="271.81" y2="187.2" stroke="#444" stroke-width="0.6"/>
<text transform="translate(272.71 188.4) rotate(-64)" font-size="3.7" text-anchor="end" fill="#7a7a7a" stroke="#999" stroke-width="0.1" textLength="42" lengthAdjust="spacingAndGlyphs">peptide metabolic process in cell</text>
<line x1="278.01" y1="185.6" x2="278.01" y2="187.2" stroke="#444" stroke-width="0.6"/>
<text transform="translate(278.91 188.4) rotate(-64)" font-size="3.7" text-anchor="end" fill="#7a7a7a" stroke="#999" stroke-width="0.1" textLength="62" lengthAdjust="spacingAndGlyphs">cellular amide metabolic process of the organism</text>
<line x1="284.22" y1="185.6" x2="284.22" y2="187.2" stroke="#444" stroke-width="0.6"/>
<text transform="translate(285.12 188.4) rotate(-64)" font-size="3.7" text-anchor="end" fill="#7a7a7a" stroke="#999" stroke-width="0.1" textLength="55" lengthAdjust="spacingAndGlyphs">organonitrogen compound biosynthesis process</text>
<line x1="290.42" y1="185.6" x2="290.42" y2="187.2" stroke="#444" stroke-width="0.6"/>
<text transform="translate(291.32 188.4) rotate(-64)" font-size="3.7" text-anchor="end" fill="#7a7a7a" stroke="#999" stroke-width="0.1" textLength="92" lengthAdjust="spacingAndGlyphs">cellular nitrogen compound biosynthetic process and related</text>
<line x1="296.62" y1="185.6" x2="296.62" y2="187.2" stroke="#444" stroke-width="0.6"/>
<text transform="translate(297.52 188.4) rotate(-64)" font-size="3.7" text-anchor="end" fill="#7a7a7a" stroke="#999" stroke-width="0.1" textLength="90" lengthAdjust="spacingAndGlyphs">organonitrogen compound metabolic process and gene expression</text>
<line x1="302.83" y1="185.6" x2="302.83" y2="187.2" stroke="#444" stroke-width="0.6"/>
<text transform="translate(303.73 188.4) rotate(-64)" font-size="3.7" text-anchor="end" fill="#7a7a7a" stroke="#999" stroke-width="0.1" textLength="55" lengthAdjust="spacingAndGlyphs">macromolecule biosynthetic process in cell</text>
<line x1="309.03" y1="185.6" x2="309.03" y2="187.2" stroke="#444" stroke-width="0.6"/>
<text transform="translate(309.93 188.4) rotate(-64)" font-size="3.7" text-anchor="end" fill="#7a7a7a" stroke="#999" stroke-width="0.1" textLength="53" lengthAdjust="spacingAndGlyphs">ribosome biogenesis and assembly process</text>
<line x1="315.23" y1="185.6" x2="315.23" y2="187.2" stroke="#444" stroke-width="0.6"/>
<text transform="translate(316.13 188.4) rotate(-64)" font-size="3.7" text-anchor="end" fill="#7a7a7a" stroke="#999" stroke-width="0.1" textLength="36" lengthAdjust="spacingAndGlyphs">ribosome subunit</text>
<line x1="321.43" y1="185.6" x2="321.43" y2="187.2" stroke="#444" stroke-width="0.6"/>
<text transform="translate(322.33 188.4) rotate(-64)" font-size="3.7" text-anchor="end" fill="#7a7a7a" stroke="#999" stroke-width="0.1" textLength="42" lengthAdjust="spacingAndGlyphs">ribonucleoprotein complex</text>
<line x1="327.64" y1="185.6" x2="327.64" y2="187.2" stroke="#444" stroke-width="0.6"/>
<text transform="translate(328.54 188.4) rotate(-64)" font-size="3.7" text-anchor="end" fill="#7a7a7a" stroke="#999" stroke-width="0.1" textLength="47" lengthAdjust="spacingAndGlyphs">cytosolic ribosome and polysome</text>
<line x1="333.84" y1="185.6" x2="333.84" y2="187.2" stroke="#444" stroke-width="0.6"/>
<text transform="translate(334.74 188.4) rotate(-64)" font-size="3.7" text-anchor="end" fill="#7a7a7a" stroke="#999" stroke-width="0.1" textLength="39" lengthAdjust="spacingAndGlyphs">intracellular organelle part</text>
<line x1="340.04" y1="185.6" x2="340.04" y2="187.2" stroke="#444" stroke-width="0.6"/>
<text transform="translate(340.94 188.4) rotate(-64)" font-size="3.7" text-anchor="end" fill="#7a7a7a" stroke="#999" stroke-width="0.1" textLength="44" lengthAdjust="spacingAndGlyphs">non-membrane-bounded organelle</text>
<line x1="346.25" y1="185.6" x2="346.25" y2="187.2" stroke="#444" stroke-width="0.6"/>
<text transform="translate(347.15 188.4) rotate(-64)" font-size="3.7" text-anchor="end" fill="#7a7a7a" stroke="#999" stroke-width="0.1" textLength="35" lengthAdjust="spacingAndGlyphs">ribosomal subunit</text>
<line x1="352.45" y1="185.6" x2="352.45" y2="187.2" stroke="#444" stroke-width="0.6"/>
<text transform="translate(353.35 188.4) rotate(-64)" font-size="3.7" text-anchor="end" fill="#7a7a7a" stroke="#999" stroke-width="0.1" textLength="48" lengthAdjust="spacingAndGlyphs">extracellular matrix component</text>
<line x1="358.65" y1="185.6" x2="358.65" y2="187.2" stroke="#444" stroke-width="0.6"/>
<text transform="translate(359.55 188.4) rotate(-64)" font-size="3.7" text-anchor="end" fill="#7a7a7a" stroke="#999" stroke-width="0.1" textLength="53" lengthAdjust="spacingAndGlyphs">collagen-containing extracellular matrix</text>
<line x1="364.86" y1="185.6" x2="364.86" y2="187.2" stroke="#444" stroke-width="0.6"/>
<text transform="translate(365.76 188.4) rotate(-64)" font-size="3.7" text-anchor="end" fill="#7a7a7a" stroke="#999" stroke-width="0.1" textLength="40" lengthAdjust="spacingAndGlyphs">cytosolic large ribosomal</text>
<line x1="371.06" y1="185.6" x2="371.06" y2="187.2" stroke="#444" stroke-width="0.6"/>
<text transform="translate(371.96 188.4) rotate(-64)" font-size="3.7" text-anchor="end" fill="#7a7a7a" stroke="#999" stroke-width="0.1" textLength="56" lengthAdjust="spacingAndGlyphs">basement membrane and extracellular region</text>
<line x1="377.26" y1="185.6" x2="377.26" y2="187.2" stroke="#444" stroke-width="0.6"/>
<text transform="translate(378.16 188.4) rotate(-64)" font-size="3.7" text-anchor="end" fill="#7a7a7a" stroke="#999" stroke-width="0.1" textLength="50" lengthAdjust="spacingAndGlyphs">structural constituent of ribosome</text>
<line x1="383.46" y1="185.6" x2="383.46" y2="187.2" stroke="#444" stroke-width="0.6"/>
<text transform="translate(384.36 188.4) rotate(-64)" font-size="3.7" text-anchor="end" fill="#7a7a7a" stroke="#999" stroke-width="0.1" textLength="51" lengthAdjust="spacingAndGlyphs">structural molecule activity and binding</text>
<line x1="389.67" y1="185.6" x2="389.67" y2="187.2" stroke="#444" stroke-width="0.6"/>
<text transform="translate(390.57 188.4) rotate(-64)" font-size="3.7" text-anchor="end" fill="#7a7a7a" stroke="#999" stroke-width="0.1" textLength="45" lengthAdjust="spacingAndGlyphs">extracellular matrix constituent</text>
<line x1="395.87" y1="185.6" x2="395.87" y2="187.2" stroke="#444" stroke-width="0.6"/>
<text transform="translate(396.77 188.4) rotate(-64)" font-size="3.7" text-anchor="end" fill="#7a7a7a" stroke="#999" stroke-width="0.1" textLength="42" lengthAdjust="spacingAndGlyphs">rRNA binding activity in cell</text>
<line x1="402.07" y1="185.6" x2="402.07" y2="187.2" stroke="#444" stroke-width="0.6"/>
<text transform="translate(402.97 188.4) rotate(-64)" font-size="3.7" text-anchor="end" fill="#7a7a7a" stroke="#999" stroke-width="0.1" textLength="51" lengthAdjust="spacingAndGlyphs">calcium ion binding and transport</text>
<line x1="408.28" y1="185.6" x2="408.28" y2="187.2" stroke="#444" stroke-width="0.6"/>
<text transform="translate(409.18 188.4) rotate(-64)" font-size="3.7" text-anchor="end" fill="#7a7a7a" stroke="#999" stroke-width="0.1" textLength="60" lengthAdjust="spacingAndGlyphs">actin binding and cytoskeletal protein binding</text>
<line x1="414.48" y1="185.6" x2="414.48" y2="187.2" stroke="#444" stroke-width="0.6"/>
<text transform="translate(415.38 188.4) rotate(-64)" font-size="3.7" text-anchor="end" fill="#7a7a7a" stroke="#999" stroke-width="0.1" textLength="80" lengthAdjust="spacingAndGlyphs">cytoskeletal protein binding and protein binding bridging</text>
<line x1="420.68" y1="185.6" x2="420.68" y2="187.2" stroke="#444" stroke-width="0.6"/>
<text transform="translate(421.58 188.4) rotate(-64)" font-size="3.7" text-anchor="end" fill="#7a7a7a" stroke="#999" stroke-width="0.1" textLength="58" lengthAdjust="spacingAndGlyphs">protein binding, bridging activity</text>
<line x1="426.89" y1="185.6" x2="426.89" y2="187.2" stroke="#444" stroke-width="0.6"/>
<text transform="translate(427.79 188.4) rotate(-64)" font-size="3.7" text-anchor="end" fill="#7a7a7a" stroke="#999" stroke-width="0.1" textLength="55" lengthAdjust="spacingAndGlyphs">growth factor binding and receptor</text>
<line x1="433.09" y1="185.6" x2="433.09" y2="187.2" stroke="#444" stroke-width="0.6"/>
<text transform="translate(433.99 188.4) rotate(-64)" font-size="3.7" text-anchor="end" fill="#7a7a7a" stroke="#999" stroke-width="0.1" textLength="64" lengthAdjust="spacingAndGlyphs">integrin binding and cell adhesion molecule</text>
<text x="330.4" y="266.4" font-size="6.2" text-anchor="middle" fill="#333">GO_term</text>
<text x="423.9" y="12.9" font-size="6.3" fill="#222">Category</text>
<rect x="423.9" y="17" width="8.9" height="8" fill="#F04D2B"/>
<text x="436.3" y="23.0" font-size="5.5" fill="#333">BP</text>
<rect x="423.9" y="26.7" width="8.9" height="8" fill="#1BB03A"/>
<text x="436.3" y="32.7" font-size="5.5" fill="#333">CC</text>
<rect x="423.9" y="36.5" width="8.9" height="8" fill="#2C9AF4"/>
<text x="436.3" y="42.5" font-size="5.5" fill="#333">MF</text>
<text x="467.0" y="25.4" font-size="19.2" font-weight="bold" fill="#111" stroke="#111" stroke-width="0.35">C</text>
<rect x="484.80" y="33.8" width="10.27" height="144.80" fill="#2C9AF4"/>
<text x="489.94" y="32.10" font-size="4.8" text-anchor="middle" fill="#444">21</text>
<rect x="495.87" y="101.6" width="10.27" height="77.00" fill="#2C9AF4"/>
<text x="501.01" y="99.90" font-size="4.8" text-anchor="middle" fill="#444">31</text>
<rect x="506.94" y="110.4" width="10.27" height="68.20" fill="#2C9AF4"/>
<text x="512.08" y="108.70" font-size="4.8" text-anchor="middle" fill="#444">35</text>
<rect x="518.01" y="113.6" width="10.27" height="65.00" fill="#2C9AF4"/>
<text x="523.14" y="111.90" font-size="4.8" text-anchor="middle" fill="#444">12</text>
<rect x="529.08" y="124.7" width="10.27" height="53.90" fill="#2C9AF4"/>
<text x="534.22" y="123.00" font-size="4.8" text-anchor="middle" fill="#444">10</text>
<rect x="540.15" y="133.9" width="10.27" height="44.70" fill="#2C9AF4"/>
<text x="545.28" y="132.20" font-size="4.8" text-anchor="middle" fill="#444">16</text>
<rect x="551.22" y="135.7" width="10.27" height="42.90" fill="#2C9AF4"/>
<text x="556.36" y="134.00" font-size="4.8" text-anchor="middle" fill="#444">12</text>
<rect x="562.29" y="138.1" width="10.27" height="40.50" fill="#2C9AF4"/>
<text x="567.42" y="136.40" font-size="4.8" text-anchor="middle" fill="#444">18</text>
<rect x="573.36" y="152.5" width="10.27" height="26.10" fill="#2C9AF4"/>
<text x="578.50" y="150.80" font-size="4.8" text-anchor="middle" fill="#444">26</text>
<rect x="584.43" y="155.4" width="10.27" height="23.20" fill="#2C9AF4"/>
<text x="589.57" y="153.70" font-size="4.8" text-anchor="middle" fill="#444">14</text>
<rect x="595.50" y="155.7" width="10.27" height="22.90" fill="#2C9AF4"/>
<text x="600.63" y="154.00" font-size="4.8" text-anchor="middle" fill="#444">8</text>
<rect x="606.57" y="155.7" width="10.27" height="22.90" fill="#2C9AF4"/>
<text x="611.71" y="154.00" font-size="4.8" text-anchor="middle" fill="#444">8</text>
<rect x="617.64" y="157.9" width="10.27" height="20.70" fill="#2C9AF4"/>
<text x="622.77" y="156.20" font-size="4.8" text-anchor="middle" fill="#444">20</text>
<rect x="628.71" y="157.9" width="10.27" height="20.70" fill="#2C9AF4"/>
<text x="633.85" y="156.20" font-size="4.8" text-anchor="middle" fill="#444">8</text>
<rect x="639.78" y="158.3" width="10.27" height="20.30" fill="#2C9AF4"/>
<text x="644.91" y="156.60" font-size="4.8" text-anchor="middle" fill="#444">28</text>
<rect x="650.85" y="166.3" width="10.27" height="12.30" fill="#2C9AF4"/>
<text x="655.99" y="164.60" font-size="4.8" text-anchor="middle" fill="#444">5</text>
<rect x="661.92" y="169.1" width="10.27" height="9.50" fill="#2C9AF4"/>
<text x="667.06" y="167.40" font-size="4.8" text-anchor="middle" fill="#444">7</text>
<rect x="672.99" y="169.1" width="10.27" height="9.50" fill="#2C9AF4"/>
<text x="678.12" y="167.40" font-size="4.8" text-anchor="middle" fill="#444">9</text>
<rect x="684.06" y="171" width="10.27" height="7.60" fill="#2C9AF4"/>
<text x="689.19" y="169.30" font-size="4.8" text-anchor="middle" fill="#444">9</text>
<rect x="695.13" y="173" width="10.27" height="5.60" fill="#2C9AF4"/>
<text x="700.26" y="171.30" font-size="4.8" text-anchor="middle" fill="#444">11</text>
<path d="M482.8 26.9V185.8H707" stroke="#707070" stroke-width="1.1" fill="none"/>
<text x="480.5" y="180.2" font-size="4.5" text-anchor="end" fill="#555">0</text>
<line x1="481" y1="178.6" x2="482.3" y2="178.6" stroke="#666" stroke-width="0.5"/>
<text x="480.5" y="126.3" font-size="4.5" text-anchor="end" fill="#555">2</text>
<line x1="481" y1="124.7" x2="482.3" y2="124.7" stroke="#666" stroke-width="0.5"/>
<text x="480.5" y="70.8" font-size="4.5" text-anchor="end" fill="#555">4</text>
<line x1="481" y1="69.2" x2="482.3" y2="69.2" stroke="#666" stroke-width="0.5"/>
<text transform="translate(474.8 105.6) rotate(-90)" font-size="6.3" text-anchor="middle" fill="#222">-log10(padj)</text>
<line x1="489.94" y1="185.8" x2="489.94" y2="187.4" stroke="#444" stroke-width="0.6"/>
<text transform="translate(492.14 190.6) rotate(-55.5)" font-size="5.9" text-anchor="end" fill="#333" stroke="#444" stroke-width="0.17">Ribosome</text>
<line x1="501.01" y1="185.8" x2="501.01" y2="187.4" stroke="#444" stroke-width="0.6"/>
<text transform="translate(503.21 190.6) rotate(-55.5)" font-size="5.9" text-anchor="end" fill="#333" stroke="#444" stroke-width="0.17">Oxidative phosphorylation</text>
<line x1="512.08" y1="185.8" x2="512.08" y2="187.4" stroke="#444" stroke-width="0.6"/>
<text transform="translate(514.28 190.6) rotate(-55.5)" font-size="5.9" text-anchor="end" fill="#333" stroke="#444" stroke-width="0.17">Focal adhesion</text>
<line x1="523.14" y1="185.8" x2="523.14" y2="187.4" stroke="#444" stroke-width="0.6"/>
<text transform="translate(525.35 190.6) rotate(-55.5)" font-size="5.9" text-anchor="end" fill="#333" stroke="#444" stroke-width="0.17">ECM-receptor interaction</text>
<line x1="534.22" y1="185.8" x2="534.22" y2="187.4" stroke="#444" stroke-width="0.6"/>
<text transform="translate(536.42 190.6) rotate(-55.5)" font-size="5.9" text-anchor="end" fill="#333" stroke="#444" stroke-width="0.17">MAPK signaling pathway</text>
<line x1="545.28" y1="185.8" x2="545.28" y2="187.4" stroke="#444" stroke-width="0.6"/>
<text transform="translate(547.49 190.6) rotate(-55.5)" font-size="5.9" text-anchor="end" fill="#333" stroke="#444" stroke-width="0.17">Cell adhesion molecules</text>
<line x1="556.36" y1="185.8" x2="556.36" y2="187.4" stroke="#444" stroke-width="0.6"/>
<text transform="translate(558.56 190.6) rotate(-55.5)" font-size="5.9" text-anchor="end" fill="#333" stroke="#444" stroke-width="0.17">Phagosome</text>
<line x1="567.42" y1="185.8" x2="567.42" y2="187.4" stroke="#444" stroke-width="0.6"/>
<text transform="translate(569.62 190.6) rotate(-55.5)" font-size="5.9" text-anchor="end" fill="#333" stroke="#444" stroke-width="0.17">Cytokine-cytokine receptor interaction</text>
<line x1="578.50" y1="185.8" x2="578.50" y2="187.4" stroke="#444" stroke-width="0.6"/>
<text transform="translate(580.70 190.6) rotate(-55.5)" font-size="5.9" text-anchor="end" fill="#333" stroke="#444" stroke-width="0.17">ErbB signaling pathway</text>
<line x1="589.57" y1="185.8" x2="589.57" y2="187.4" stroke="#444" stroke-width="0.6"/>
<text transform="translate(591.77 190.6) rotate(-55.5)" font-size="5.9" text-anchor="end" fill="#333" stroke="#444" stroke-width="0.17">Regulation of actin cytoskeleton</text>
<line x1="600.63" y1="185.8" x2="600.63" y2="187.4" stroke="#444" stroke-width="0.6"/>
<text transform="translate(602.84 190.6) rotate(-55.5)" font-size="5.9" text-anchor="end" fill="#333" stroke="#444" stroke-width="0.17">Tight junction</text>
<line x1="611.71" y1="185.8" x2="611.71" y2="187.4" stroke="#444" stroke-width="0.6"/>
<text transform="translate(613.91 190.6) rotate(-55.5)" font-size="5.9" text-anchor="end" fill="#333" stroke="#444" stroke-width="0.17">Cardiac muscle contraction</text>
<line x1="622.77" y1="185.8" x2="622.77" y2="187.4" stroke="#444" stroke-width="0.6"/>
<text transform="translate(624.98 190.6) rotate(-55.5)" font-size="5.9" text-anchor="end" fill="#333" stroke="#444" stroke-width="0.17">Ubiquitin mediated proteolysis</text>
<line x1="633.85" y1="185.8" x2="633.85" y2="187.4" stroke="#444" stroke-width="0.6"/>
<text transform="translate(636.05 190.6) rotate(-55.5)" font-size="5.9" text-anchor="end" fill="#333" stroke="#444" stroke-width="0.17">Fatty acid elongation</text>
<line x1="644.91" y1="185.8" x2="644.91" y2="187.4" stroke="#444" stroke-width="0.6"/>
<text transform="translate(647.12 190.6) rotate(-55.5)" font-size="5.9" text-anchor="end" fill="#333" stroke="#444" stroke-width="0.17">Biosynthesis of cofactors</text>
<line x1="655.99" y1="185.8" x2="655.99" y2="187.4" stroke="#444" stroke-width="0.6"/>
<text transform="translate(658.19 190.6) rotate(-55.5)" font-size="5.9" text-anchor="end" fill="#333" stroke="#444" stroke-width="0.17">Ascorbate and aldarate metabolism</text>
<line x1="667.06" y1="185.8" x2="667.06" y2="187.4" stroke="#444" stroke-width="0.6"/>
<text transform="translate(669.26 190.6) rotate(-55.5)" font-size="5.9" text-anchor="end" fill="#333" stroke="#444" stroke-width="0.17">Wnt signaling pathway</text>
<line x1="678.12" y1="185.8" x2="678.12" y2="187.4" stroke="#444" stroke-width="0.6"/>
<text transform="translate(680.33 190.6) rotate(-55.5)" font-size="5.9" text-anchor="end" fill="#333" stroke="#444" stroke-width="0.17">Citrate cycle (TCA cycle)</text>
<line x1="689.19" y1="185.8" x2="689.19" y2="187.4" stroke="#444" stroke-width="0.6"/>
<text transform="translate(691.39 190.6) rotate(-55.5)" font-size="5.9" text-anchor="end" fill="#333" stroke="#444" stroke-width="0.17">Fatty acid degradation</text>
<line x1="700.26" y1="185.8" x2="700.26" y2="187.4" stroke="#444" stroke-width="0.6"/>
<text transform="translate(702.47 190.6) rotate(-55.5)" font-size="5.9" text-anchor="end" fill="#333" stroke="#444" stroke-width="0.17">Arginine and proline metabolism</text>
<text x="580" y="278.6" font-size="6.2" text-anchor="middle" fill="#333">KEGG_term</text>
</svg></div></body></html>
